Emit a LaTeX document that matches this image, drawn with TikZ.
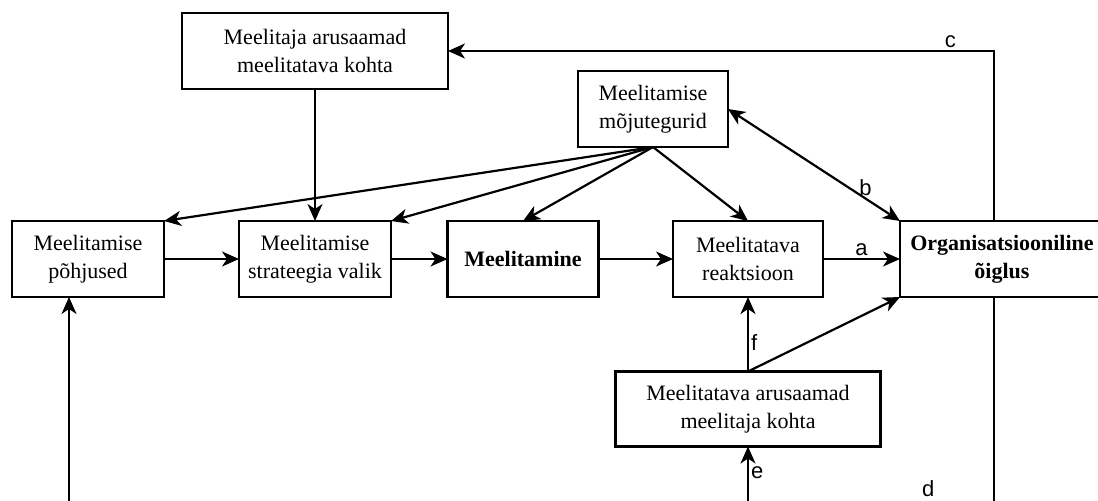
\documentclass[tikz,border=0pt]{standalone}
\usepackage{fontspec}
\setmainfont{Liberation Serif}
\newfontfamily\lettfont{Liberation Sans}
\usetikzlibrary{arrows.meta}
\begin{document}
\begin{tikzpicture}[x=0.5pt,y=-0.5pt]
	\tikzset{box/.style = {shape=rectangle,draw,line width=1.1pt,align=center,inner sep=0pt,outer sep=0pt,minimum height=38pt,font=\fontsize{11}{14}\selectfont}}
	\tikzset{link/.style = {line width=1.1pt,-{Stealth[length=8.5pt,width=7.5pt,inset=2.5pt]}}}
	\tikzset{lett/.style = {font=\lettfont\fontsize{11}{13}\selectfont,inner sep=1pt}}

	\useasboundingbox (0,0) rectangle (1098,500);
	\clip (0,0) rectangle (1098,500);

	\node[box,minimum width=133pt] (meelitaja) at (315,51) {Meelitaja arusaamad\\meelitatava kohta};
	\node[box,minimum width=75pt] (mojut) at (653,109) {Meelitamise\\mõjutegurid};
	\node[box,minimum width=76pt] (pohj) at (88,259) {Meelitamise\\põhjused};
	\node[box,minimum width=76pt] (strat) at (315,259) {Meelitamise\\strateegia valik};
	\node[box,minimum width=75.5pt] (meel) at (523,259) {\textbf{Meelitamine}};
	\node[box,minimum width=75pt] (reakt) at (748,259) {Meelitatava\\reaktsioon};
	\node[box,minimum width=102pt] (oigl) at (1002,259) {\textbf{Organisatsiooniline}\\\textbf{õiglus}};
	\node[box,minimum width=132.5pt,minimum height=37.5pt] (meelitatav) at (748,409) {Meelitatava arusaamad\\meelitaja kohta};

	\coordinate (loopR) at (994,506);
	\coordinate (loopL) at (69,506);
	\coordinate (eStart) at (748,506);

	\draw[link] (pohj) -- (strat);
	\draw[link] (strat) -- (meel);
	\draw[link] (meel) -- (reakt);
	\draw[link] (reakt) -- node[lett,above]{a} (oigl);

	\draw[link] (meelitaja) -- (strat);
	\draw[link] (mojut.south) -- (pohj.north east);
	\draw[link] (mojut.south) -- (strat.north east);
	\draw[link] (mojut.south) -- (meel.north);
	\draw[link] (mojut.south) -- (reakt.north);
	\draw[line width=1.1pt,{Stealth[length=8.5pt,width=7.5pt,inset=2.5pt]}-{Stealth[length=8.5pt,width=7.5pt,inset=2.5pt]}] (mojut.east) -- node[lett,pos=0.8,above]{b} (oigl.north west);

	\draw[link] ([xshift=-4pt]oigl.north) |- node[lett,pos=0.54,above]{c} (meelitaja.east);
	\draw[link] ([xshift=-4pt]oigl.south) -- (loopR) -- node[lett,pos=0.071,above=3pt]{d} (loopL) -- (pohj.south -| loopL);
	\draw[link] (eStart) -- node[lett,pos=0.56,right]{e} (meelitatav.south);
	\draw[link] (meelitatav.north) -- node[lett,pos=0.39,right]{f} (reakt.south);
	\draw[link] (meelitatav.north) -- (oigl.south west);

\end{tikzpicture}
\end{document}
